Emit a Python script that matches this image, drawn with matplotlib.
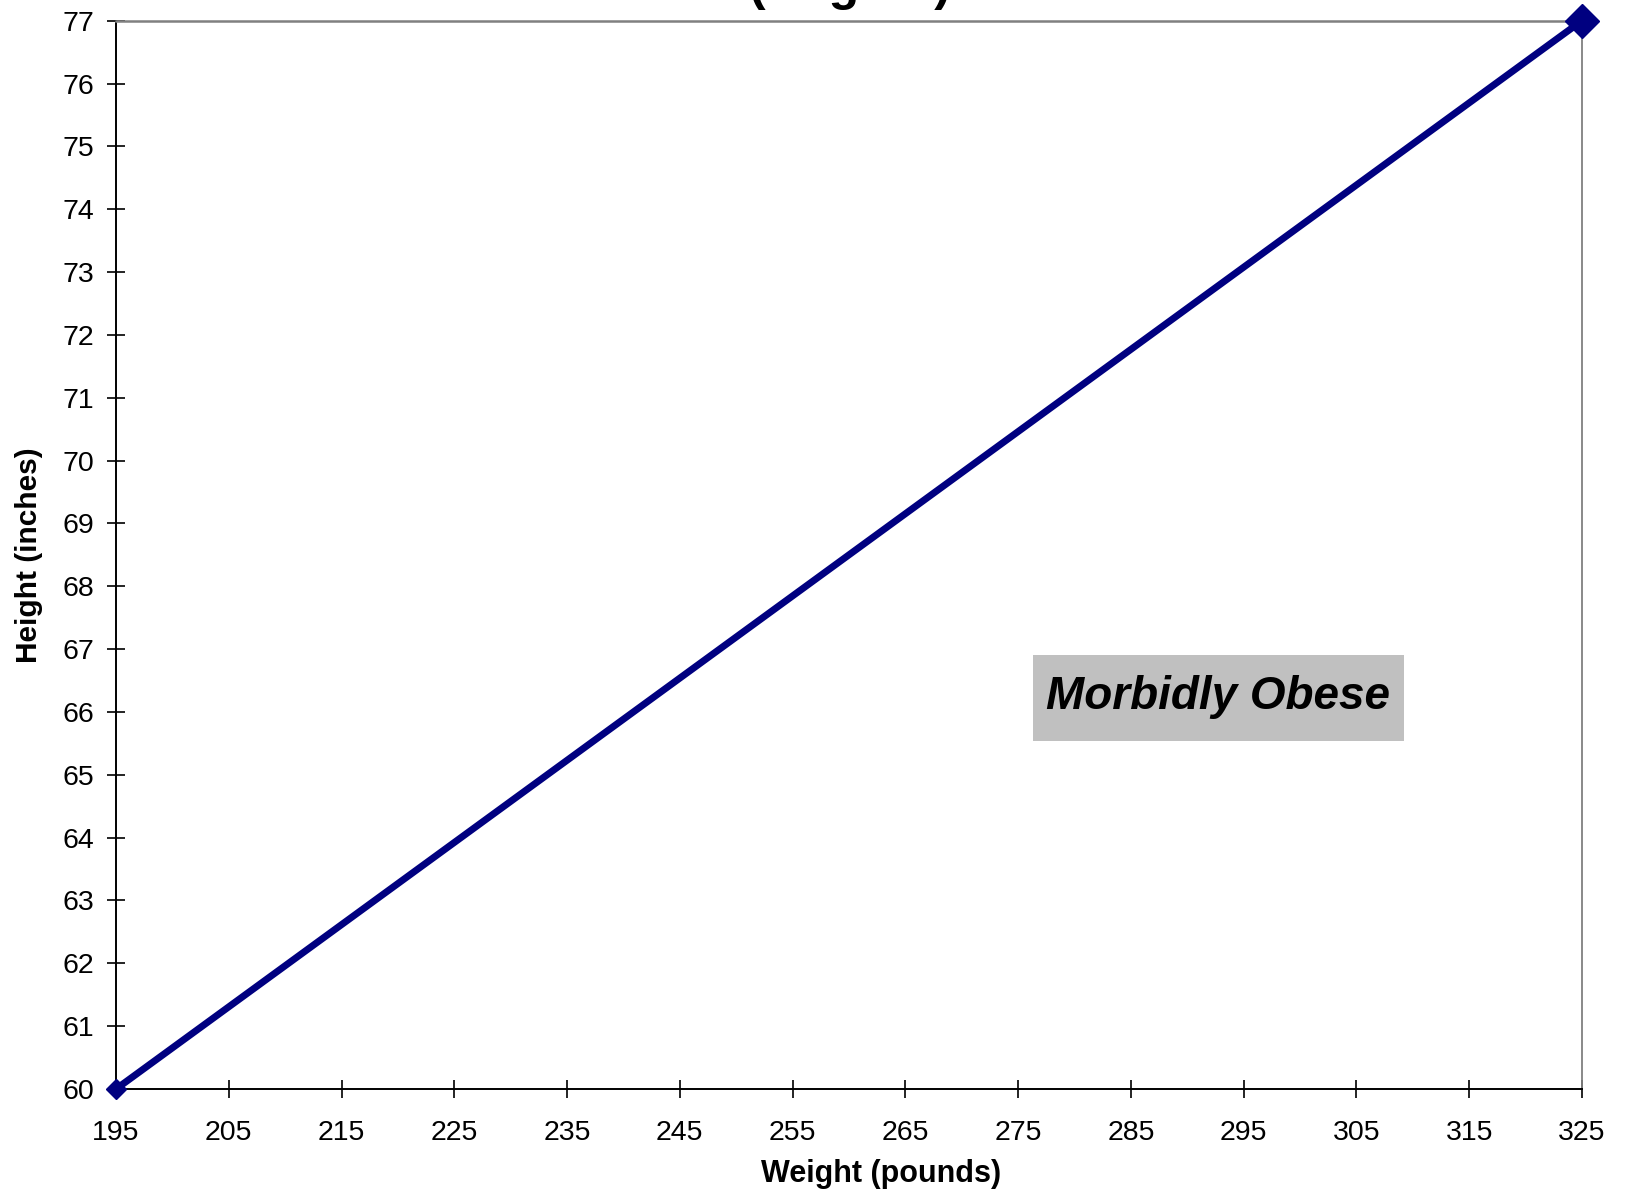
import matplotlib
matplotlib.use("Agg")
import matplotlib.pyplot as plt
from matplotlib.patches import Rectangle

plt.rcParams['font.family'] = ['Liberation Sans', 'DejaVu Sans']

# Boundary line: weight (lb) vs height (in)
weights = [195, 325]
heights = [60, 77]

x_ticks = list(range(195, 326, 10))
y_ticks = list(range(60, 78))

region_label = "Morbidly Obese"
title_text = "(Region)"

fig = plt.figure(figsize=(16.27, 11.89), dpi=100)
ax = fig.add_axes([0.0713, 0.0841, 0.9010, 0.8985])

navy = '#000080'
ax.plot(weights, heights, color=navy, lw=5, solid_capstyle='butt', clip_on=False, zorder=3)
ax.plot(weights[:1], heights[:1], 'D', color=navy, ms=10, clip_on=False, zorder=4)
ax.plot(weights[-1:], heights[-1:], 'D', color=navy, ms=17, clip_on=False, zorder=4)

ax.set_xlim(weights[0], weights[-1])
ax.set_ylim(heights[0], heights[-1])
ax.set_xticks(x_ticks)
ax.set_yticks(y_ticks)
ax.tick_params(axis='both', direction='inout', length=13, width=1.2, color='black',
               labelsize=20.5)
ax.tick_params(axis='x', pad=16)
ax.tick_params(axis='y', pad=9)

for side in ('left', 'bottom'):
    ax.spines[side].set_color('black')
    ax.spines[side].set_linewidth(1.4)
ax.spines['top'].set_color('#808080')
ax.spines['top'].set_linewidth(1.8)
ax.spines['right'].set_color('#808080')
ax.spines['right'].set_linewidth(1.3)

ax.set_xlabel("Weight (pounds)", fontsize=22, fontweight='bold', labelpad=9)
ax.xaxis.label.set_x(0.522)
ax.set_ylabel("Height (inches)", fontsize=21.5, fontweight='bold', labelpad=14)

# Shaded label box for the region above the line
ax.add_patch(Rectangle((276.3, 65.54), 32.9, 1.37, facecolor='#C0C0C0',
                       edgecolor='none', zorder=2))
ax.text(292.75, 66.23, region_label, fontsize=33, fontweight='bold', style='italic',
        ha='center', va='center', zorder=3)

# Title sits above the top edge of the canvas; only its descenders show
fig.text(0.5224, 1.0, title_text, fontsize=36, fontweight='bold',
         ha='center', va='baseline')

fig.savefig("out.png", dpi=100)
